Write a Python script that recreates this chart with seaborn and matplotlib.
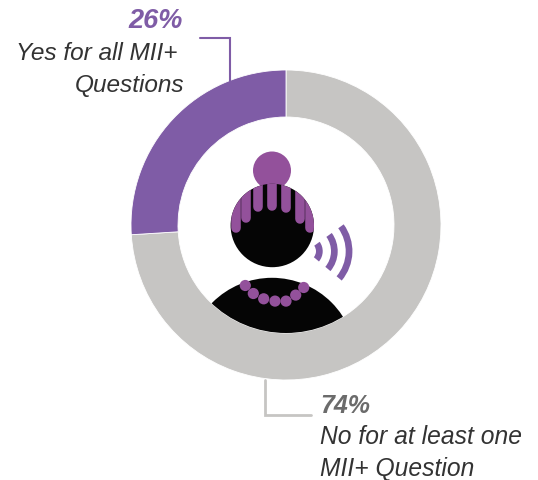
import matplotlib
matplotlib.use("Agg")
import matplotlib.pyplot as plt
from matplotlib.patches import Circle, Wedge
import seaborn as sns

# donut data
labels = ["No for at least one\nMII+ Question", "Yes for all MII+\nQuestions"]
pct_labels = ["74%", "26%"]
values = [74, 26]

GREY = "#C6C5C3"
PURPLE = "#7F5CA6"
PLUM = "#93519B"
BLACK = "#050505"
TEXT = "#333333"

sns.set_theme(style="white")
plt.rcParams["font.family"] = ["Liberation Sans", "DejaVu Sans"]

fig, ax = plt.subplots(figsize=(5.38, 4.81), dpi=100)
ax.set_position([0, 0, 1, 1])

# y axis is flipped so everything is in image pixels, hence startangle -90
cx, cy = 286, 226
outer, inner = 155, 108
ax.pie(values, colors=sns.color_palette([GREY, PURPLE]), center=(cx, cy), radius=outer,
       startangle=-90, counterclock=True,
       wedgeprops={"width": outer - inner, "edgecolor": "white", "linewidth": 0.6})
ax.set_xlim(0, 538)
ax.set_ylim(481, 0)

# leader lines
ax.plot([200, 229.5, 229.5], [38.5, 38.5, 82], color=PURPLE, lw=1.5, solid_joinstyle="miter")
ax.plot([265, 265, 311], [381, 416, 416], color=GREY, lw=2, solid_joinstyle="miter")

# icon: bun and head
ax.add_patch(Circle((272, 171.5), 19, color=PLUM, lw=0))
head = Circle((272.3, 226.5), 41.7, color=BLACK, lw=0)
ax.add_patch(head)

# hair strands
strand_x = [235.7, 246, 258.3, 272, 286, 299.7, 310.3]
strand_end = [228, 218.3, 207.3, 206.3, 208.3, 218.9, 228]
for x, y in zip(strand_x, strand_end):
    line, = ax.plot([x, x], [170, y + 0.8], color=PLUM, lw=6.9, solid_capstyle="round")
    line.set_clip_path(head)

# icon: body, cut off by the donut hole
body = Circle((272, 363), 84.2, color=BLACK, lw=0)
ax.add_patch(body)
body.set_clip_path(Circle((cx, cy), inner, transform=ax.transData))

# necklace
bead_x = [245.3, 253.3, 263.7, 275, 286, 295.7, 303.7]
bead_y = [286.5, 294.5, 299.8, 302.1, 302.1, 296.1, 288.5]
for x, y in zip(bead_x, bead_y):
    ax.add_patch(Circle((x, y), 5.6, color=PLUM, lw=0))

# sound waves
for r in [16, 31, 45.7]:
    ax.add_patch(Wedge((306.7, 252.2), r, -36, 40, width=6.7, color=PURPLE, lw=0))

# labels
ax.text(183, 28, pct_labels[1], ha="right", va="baseline", color=PURPLE,
        fontsize=19.5, fontweight="bold", fontstyle="italic")
yes_1, yes_2 = labels[1].split("\n")
ax.text(177, 60, yes_1, ha="right", va="baseline", color=TEXT, fontsize=17.6, fontstyle="italic")
ax.text(184, 92, yes_2, ha="right", va="baseline", color=TEXT, fontsize=17.6, fontstyle="italic")
ax.text(320, 413, pct_labels[0], ha="left", va="baseline", color="#6B6B6B",
        fontsize=18, fontweight="bold", fontstyle="italic")
no_1, no_2 = labels[0].split("\n")
ax.text(320, 444, no_1, ha="left", va="baseline", color=TEXT, fontsize=17.7, fontstyle="italic")
ax.text(320, 476, no_2, ha="left", va="baseline", color=TEXT, fontsize=17.7, fontstyle="italic")

fig.savefig("out.png", dpi=100, facecolor="white")
